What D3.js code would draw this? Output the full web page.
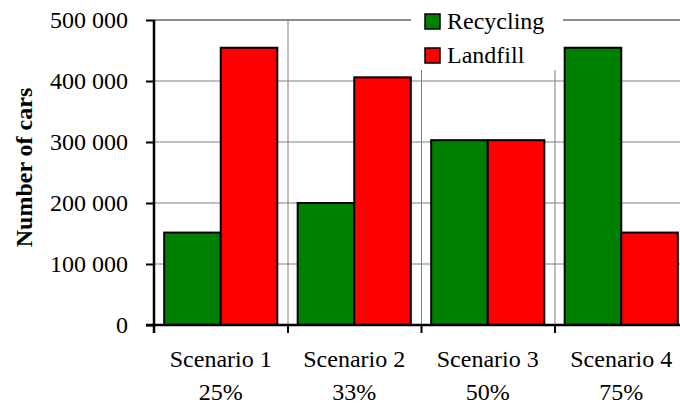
<!DOCTYPE html>
<html>
<head>
<meta charset="utf-8">
<script src="https://cdn.jsdelivr.net/npm/d3@7"></script>
<style>
  body { margin: 0; background: #fff; }
  svg text { font-family: "Liberation Serif", "DejaVu Serif", serif; fill: #000; }
</style>
</head>
<body>
<div id="plot"></div>
<script>
const scenarios = ["Scenario 1", "Scenario 2", "Scenario 3", "Scenario 4"];
const shares = ["25%", "33%", "50%", "75%"];
const recycling = [151500, 200000, 303000, 454500];
const landfill = [454500, 406000, 303000, 151500];
const seriesNames = ["Recycling", "Landfill"];
const seriesColors = ["#008000", "#ff0000"];
const yTicks = [0, 100000, 200000, 300000, 400000, 500000];

const width = 680, height = 406;
const margin = {left: 154, top: 20, right: -8, bottom: 81};

const svg = d3.select("#plot")
  .append("svg")
  .attr("width", width)
  .attr("height", height);

const x = d3.scaleBand()
  .domain(scenarios)
  .range([margin.left, width - margin.right]);

const inner = d3.scaleBand()
  .domain(seriesNames)
  .range([0, x.bandwidth()])
  .paddingOuter(0.18)
  .paddingInner(0);

const y = d3.scaleLinear()
  .domain([0, 500000])
  .range([height - margin.bottom, margin.top]);

const fmt = v => d3.format(",")(v).replace(/,/g, " ");

// Horizontal grid
svg.append("g")
  .selectAll("line")
  .data(yTicks.slice(1))
  .join("line")
  .attr("x1", margin.left)
  .attr("x2", width)
  .attr("y1", d => y(d))
  .attr("y2", d => y(d))
  .attr("stroke", d => d === 500000 ? "#8c8c8c" : "#808080")
  .attr("stroke-width", d => d === 500000 ? 2 : 1);

// Vertical grid at category boundaries
svg.append("g")
  .selectAll("line")
  .data(scenarios.slice(1))
  .join("line")
  .attr("x1", d => x(d) + 0.5)
  .attr("x2", d => x(d) + 0.5)
  .attr("y1", y(500000))
  .attr("y2", y(0))
  .attr("stroke", "#808080")
  .attr("stroke-width", 1);

// Bars
const groups = svg.append("g")
  .selectAll("g")
  .data(scenarios)
  .join("g")
  .attr("transform", d => `translate(${x(d)},0)`);

groups.selectAll("rect")
  .data((d, i) => [recycling[i], landfill[i]].map((v, j) => ({key: seriesNames[j], value: v, color: seriesColors[j]})))
  .join("rect")
  .attr("x", d => inner(d.key))
  .attr("width", inner.bandwidth())
  .attr("y", d => y(d.value))
  .attr("height", d => y(0) - y(d.value))
  .attr("fill", d => d.color)
  .attr("stroke", "#000")
  .attr("stroke-width", 2);

// Y axis
const yAxis = svg.append("g")
  .attr("transform", `translate(${margin.left},0)`)
  .call(d3.axisLeft(y).tickValues(yTicks).tickFormat(fmt).tickSize(8).tickPadding(18));
yAxis.select(".domain").attr("stroke-width", 2.5).attr("d", `M0,${y(500000)}V${y(0) + 8}`);
yAxis.selectAll(".tick line").attr("stroke-width", 2);
yAxis.selectAll("text").attr("font-size", 24);

// X axis
const xAxis = svg.append("g")
  .attr("transform", `translate(0,${y(0)})`);
xAxis.append("line")
  .attr("x1", margin.left - 8)
  .attr("x2", width)
  .attr("stroke", "#000")
  .attr("stroke-width", 2.5);
xAxis.selectAll(".xt")
  .data(scenarios.slice(1))
  .join("line")
  .attr("class", "xt")
  .attr("x1", d => x(d) + 0.5)
  .attr("x2", d => x(d) + 0.5)
  .attr("y1", 0)
  .attr("y2", 8)
  .attr("stroke", "#000")
  .attr("stroke-width", 2);

const labels = xAxis.selectAll(".xl")
  .data(scenarios)
  .join("text")
  .attr("class", "xl")
  .attr("text-anchor", "middle")
  .attr("font-size", 24);
labels.append("tspan")
  .attr("x", d => x(d) + x.bandwidth() / 2)
  .attr("y", 42)
  .text(d => d);
labels.append("tspan")
  .attr("x", d => x(d) + x.bandwidth() / 2)
  .attr("y", 75)
  .text((d, i) => shares[i]);

// Y title
svg.append("text")
  .attr("transform", `translate(32,${(y(0) + y(500000)) / 2 - 5}) rotate(-90)`)
  .attr("text-anchor", "middle")
  .attr("font-size", 24)
  .attr("font-weight", "bold")
  .text("Number of cars");

// Legend
const legend = svg.append("g");
legend.append("rect")
  .attr("x", 411)
  .attr("y", 4)
  .attr("width", 152)
  .attr("height", 66)
  .attr("fill", "#fff");
const items = legend.selectAll(".li")
  .data(seriesNames)
  .join("g")
  .attr("class", "li")
  .attr("transform", (d, i) => `translate(425,${14 + i * 34})`);
items.append("rect")
  .attr("width", 15)
  .attr("height", 15)
  .attr("fill", (d, i) => seriesColors[i])
  .attr("stroke", "#000")
  .attr("stroke-width", 1.5);
items.append("text")
  .attr("x", 22)
  .attr("y", 15)
  .attr("font-size", 24)
  .text(d => d);
</script>
</body>
</html>
